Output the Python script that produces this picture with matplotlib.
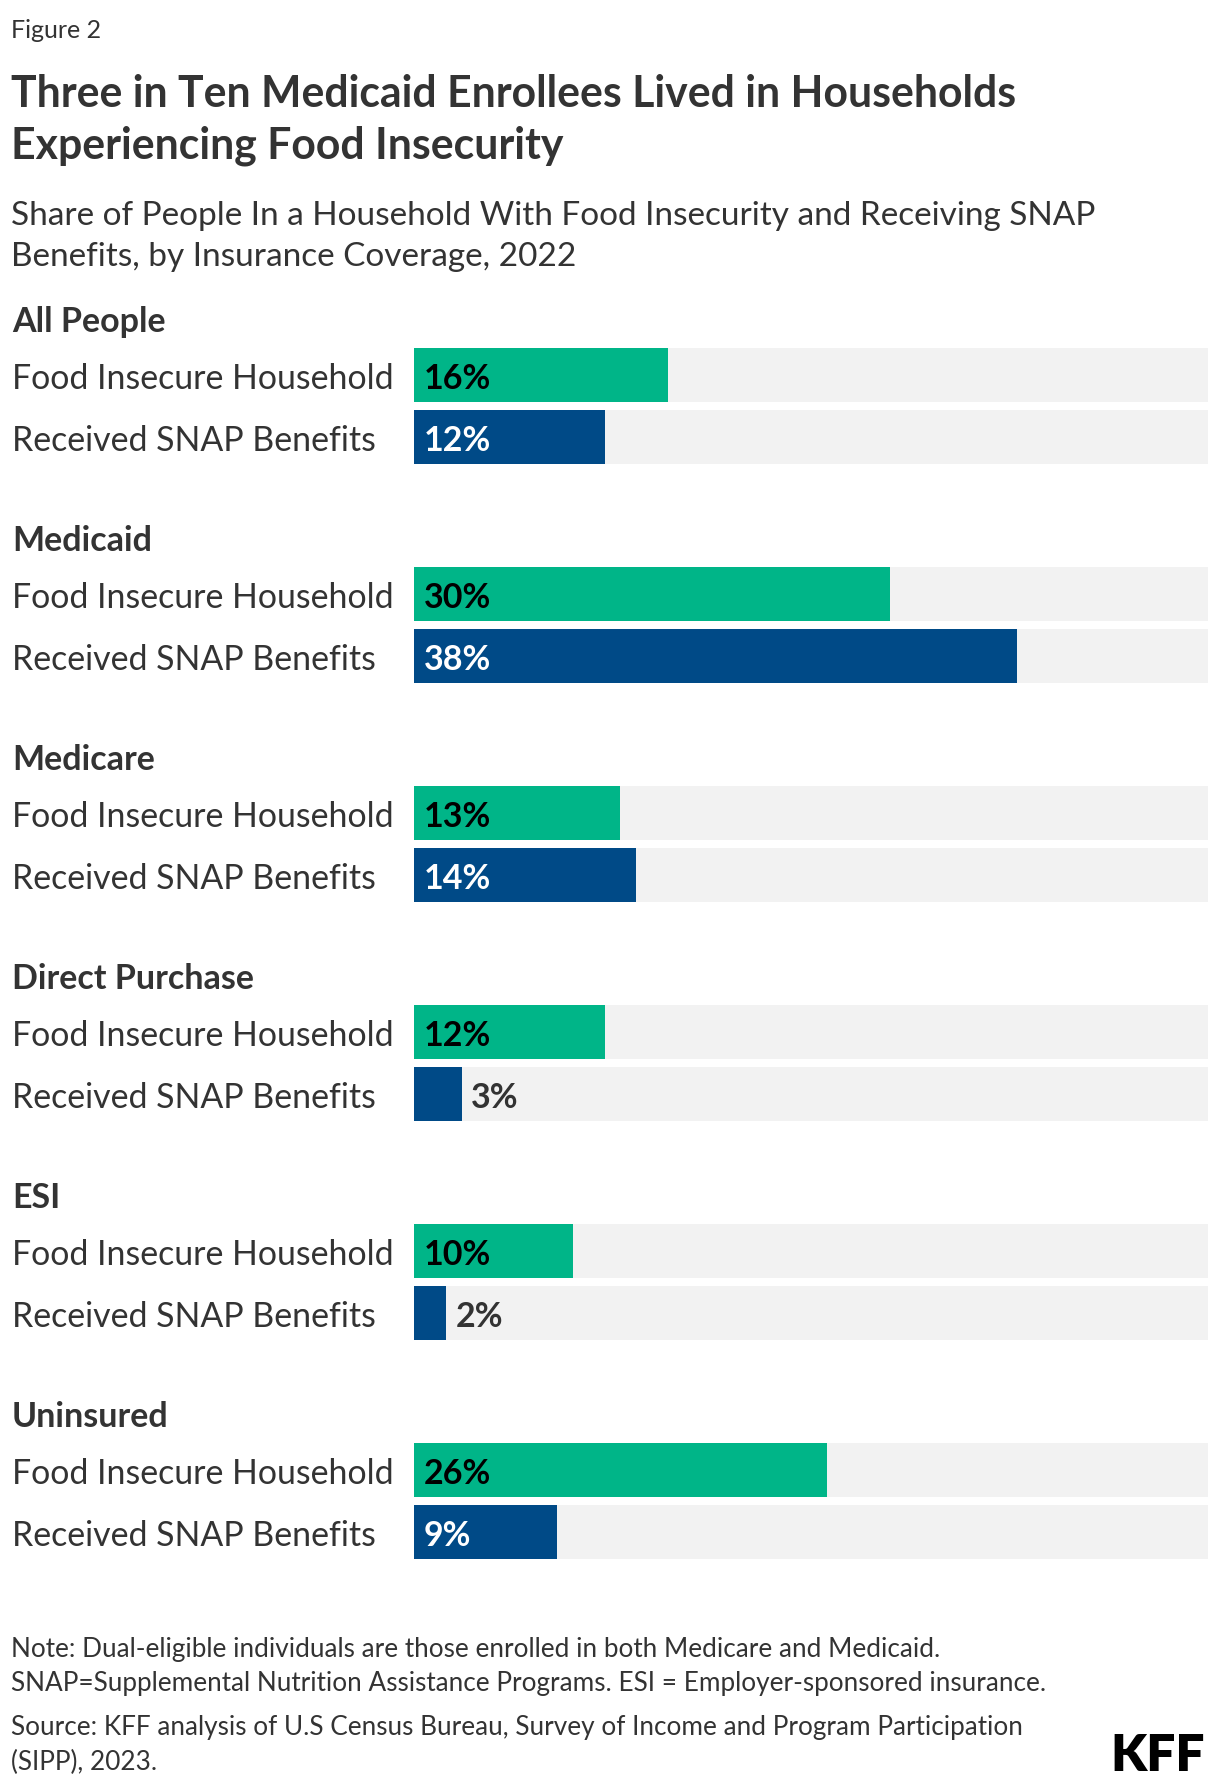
import matplotlib
matplotlib.use('Agg')
import matplotlib.pyplot as plt
import numpy as np

# Data
groups = ['All People', 'Medicaid', 'Medicare', 'Direct Purchase', 'ESI', 'Uninsured']
rows = ['Food Insecure Household', 'Received SNAP Benefits']
food_insecure = [16, 30, 13, 12, 10, 26]
snap = [12, 38, 14, 3, 2, 9]
xmax = 50

green = '#00B588'
blue = '#004A87'
bg = '#F2F2F2'
txt = '#333333'

plt.rcParams['font.family'] = ['Lato', 'DejaVu Sans']

fig = plt.figure(figsize=(12.2, 17.88), dpi=100)

W, H = 1220, 1788
def fy(px):
    return 1 - px / H

# Header texts
fig.text(11 / W, fy(30), 'Figure 2', fontsize=18, color=txt, va='center')
fig.text(11 / W, fy(94), 'Three in Ten Medicaid Enrollees Lived in Households', fontsize=30.8,
         fontweight='bold', color=txt, va='center')
fig.text(11 / W, fy(146), 'Experiencing Food Insecurity', fontsize=30.8,
         fontweight='bold', color=txt, va='center')
fig.text(11 / W, fy(216), 'Share of People In a Household With Food Insecurity and Receiving SNAP',
         fontsize=24, color=txt, va='center')
fig.text(11 / W, fy(257), 'Benefits, by Insurance Coverage, 2022', fontsize=24, color=txt, va='center')

# Bars axes
G = 3.53          # group spacing in row units
bh = 0.87         # bar height
dy = 0.07         # small downward nudge for text
top_px, bot_px = 348, 1559
ax = fig.add_axes([414 / W, fy(bot_px), (1208 - 414) / W, (bot_px - top_px) / H])
ax.set_xlim(0, xmax)
ax.set_ylim(5 * G + 1 + bh / 2, -bh / 2)
ax.axis('off')

trans = matplotlib.transforms.blended_transform_factory(fig.transFigure, ax.transData)

for i, g in enumerate(groups):
    y0 = i * G
    ax.text(12 / W, y0 - 0.93 + dy, g, transform=trans, fontsize=24.5, fontweight='bold',
            color=txt, va='center', ha='left')
    for j, (vals, col, lc) in enumerate([(food_insecure, green, 'black'), (snap, blue, 'white')]):
        y = y0 + j
        v = vals[i]
        ax.barh(y, xmax, height=bh, color=bg, left=0)
        ax.barh(y, v, height=bh, color=col)
        ax.text(12 / W, y + dy, rows[j], transform=trans, fontsize=24.4, color=txt,
                va='center', ha='left')
        if v >= 5:
            ax.annotate(f'{v}%', (0, y + dy), xytext=(7, 0), textcoords='offset points',
                        fontsize=24.5, fontweight='bold', color=lc, va='center', ha='left')
        else:
            ax.annotate(f'{v}%', (v, y + dy), xytext=(7, 0), textcoords='offset points',
                        fontsize=24.5, fontweight='bold', color=txt, va='center', ha='left')

# Notes
fig.text(11 / W, fy(1650), 'Note: Dual-eligible individuals are those enrolled in both Medicare and Medicaid.',
         fontsize=18.8, color=txt, va='center')
fig.text(11 / W, fy(1684), 'SNAP=Supplemental Nutrition Assistance Programs. ESI = Employer-sponsored insurance.',
         fontsize=18.8, color=txt, va='center')
fig.text(11 / W, fy(1728), 'Source: KFF analysis of U.S Census Bureau, Survey of Income and Program Participation',
         fontsize=18.8, color=txt, va='center')
fig.text(11 / W, fy(1762), '(SIPP), 2023.', fontsize=18.8, color=txt, va='center')
fig.text(1205 / W, fy(1756), 'KFF', fontsize=37, fontweight='heavy', color='black',
         va='center', ha='right')

plt.savefig('out.png', dpi=100, facecolor='white')
